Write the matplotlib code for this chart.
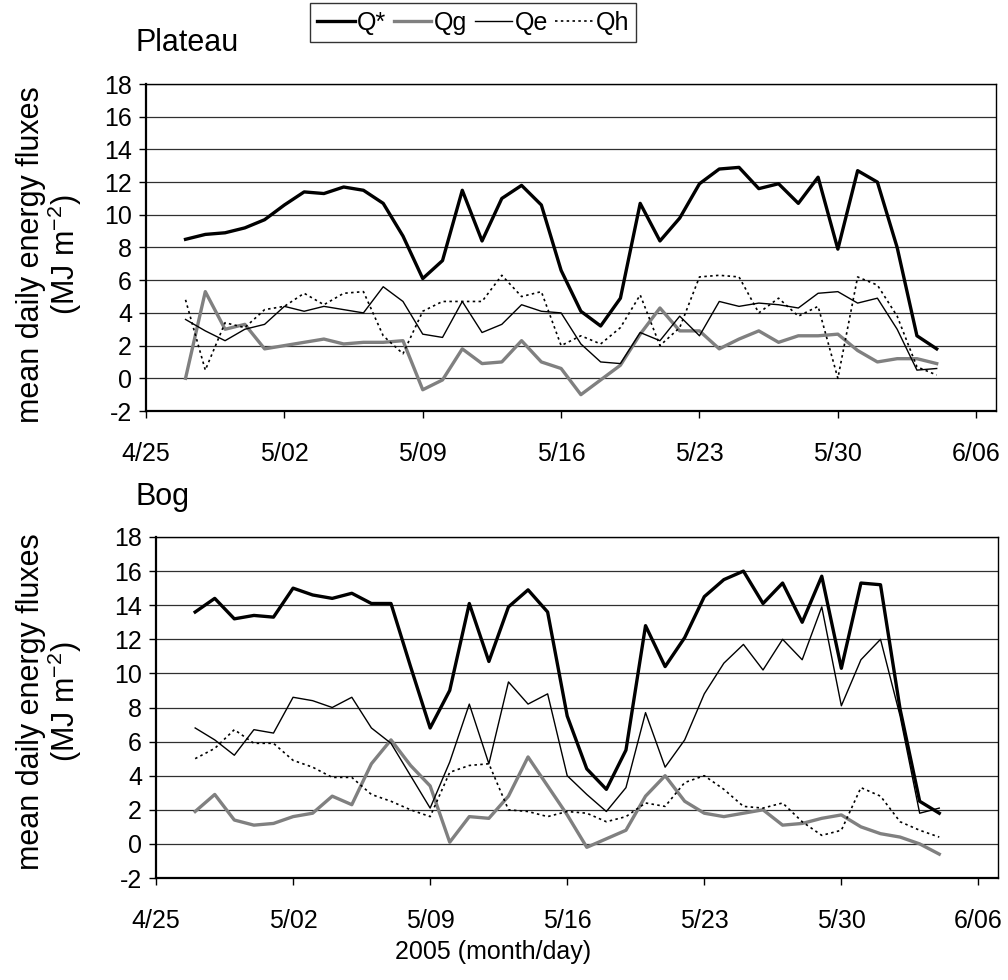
import numpy as np
import pandas as pd
import matplotlib
matplotlib.use('Agg')
import matplotlib.pyplot as plt

plt.rcParams['font.family'] = ['Liberation Sans', 'DejaVu Sans']
plt.rcParams['axes.unicode_minus'] = False
plt.rcParams['mathtext.fontset'] = 'custom'
plt.rcParams['mathtext.rm'] = 'Liberation Sans'

#%% data (daily means, 4/27 - 6/04 2005)
days = pd.date_range('2005-04-27', periods=39, freq='D')
tick_days = pd.date_range('2005-04-25', '2005-06-06', freq='7D')
tick_labels = ['4/25', '5/02', '5/09', '5/16', '5/23', '5/30', '6/06']

plat_qstar = [8.5, 8.8, 8.9, 9.2, 9.7, 10.6, 11.4, 11.3, 11.7, 11.5, 10.7, 8.7, 6.1, 7.2, 11.5, 8.4, 11.0, 11.8, 10.6, 6.6,
              4.1, 3.2, 4.9, 10.7, 8.4, 9.8, 11.9, 12.8, 12.9, 11.6, 11.9, 10.7, 12.3, 7.9, 12.7, 12.0, 8.0, 2.6, 1.8]
plat_qg = [0.0, 5.3, 3.0, 3.3, 1.8, 2.0, 2.2, 2.4, 2.1, 2.2, 2.2, 2.3, -0.7, -0.1, 1.8, 0.9, 1.0, 2.3, 1.0, 0.6,
           -1.0, -0.1, 0.8, 2.7, 4.3, 2.9, 2.9, 1.8, 2.4, 2.9, 2.2, 2.6, 2.6, 2.7, 1.7, 1.0, 1.2, 1.2, 0.9]
plat_qe = [3.6, 2.9, 2.3, 3.0, 3.3, 4.4, 4.1, 4.4, 4.2, 4.0, 5.6, 4.7, 2.7, 2.5, 4.7, 2.8, 3.3, 4.5, 4.1, 4.0,
           2.1, 1.0, 0.9, 2.8, 2.3, 3.8, 2.6, 4.7, 4.4, 4.6, 4.5, 4.3, 5.2, 5.3, 4.6, 4.9, 3.0, 0.5, 0.6]
plat_qh = [4.8, 0.5, 3.4, 3.1, 4.2, 4.4, 5.2, 4.5, 5.2, 5.3, 2.6, 1.5, 4.1, 4.7, 4.7, 4.7, 6.3, 5.0, 5.3, 2.0,
           2.6, 2.1, 3.1, 5.1, 2.0, 3.1, 6.2, 6.3, 6.2, 4.0, 4.9, 3.8, 4.4, 0.0, 6.2, 5.7, 3.8, 0.7, 0.2]

bog_qstar = [13.6, 14.4, 13.2, 13.4, 13.3, 15.0, 14.6, 14.4, 14.7, 14.1, 14.1, 10.4, 6.8, 9.0, 14.1, 10.7, 13.9, 14.9, 13.6, 7.5,
             4.4, 3.2, 5.5, 12.8, 10.4, 12.1, 14.5, 15.5, 16.0, 14.1, 15.3, 13.0, 15.7, 10.3, 15.3, 15.2, 7.9, 2.5, 1.8]
bog_qg = [1.9, 2.9, 1.4, 1.1, 1.2, 1.6, 1.8, 2.8, 2.3, 4.7, 6.1, 4.6, 3.4, 0.1, 1.6, 1.5, 2.8, 5.1, 3.4, 1.7,
          -0.2, 0.3, 0.8, 2.8, 4.0, 2.5, 1.8, 1.6, 1.8, 2.0, 1.1, 1.2, 1.5, 1.7, 1.0, 0.6, 0.4, 0.0, -0.6]
bog_qe = [6.8, 6.1, 5.2, 6.7, 6.5, 8.6, 8.4, 8.0, 8.6, 6.8, 5.9, 4.0, 2.1, 4.8, 8.2, 4.7, 9.5, 8.2, 8.8, 4.0,
          2.9, 1.9, 3.3, 7.7, 4.5, 6.1, 8.8, 10.6, 11.7, 10.2, 12.0, 10.8, 13.9, 8.1, 10.8, 12.0, 7.5, 1.8, 2.1]
bog_qh = [5.0, 5.6, 6.7, 5.9, 5.9, 4.9, 4.5, 3.9, 3.9, 2.9, 2.5, 2.0, 1.6, 4.2, 4.6, 4.7, 2.0, 1.9, 1.6, 1.9,
          1.8, 1.3, 1.6, 2.4, 2.2, 3.6, 4.0, 3.2, 2.2, 2.1, 2.4, 1.3, 0.5, 0.8, 3.3, 2.8, 1.3, 0.8, 0.4]

names = ['Q*', 'Qg', 'Qe', 'Qh']
colors = ['black', '#808080', 'black', 'black']
widths = [2.4, 2.4, 1.0, 1.2]
styles = ['-', '-', '-', (0, (1.5, 2))]

fig = plt.figure(figsize=(10.08, 9.8), dpi=100)
ax1 = fig.add_axes([146/1008, 1-411/980, (996-146)/1008, (411-84)/980])
ax2 = fig.add_axes([156/1008, 1-878/980, (998-156)/1008, (878-537)/980])

fs = 18
handles = []
for ax, series in [(ax1, [plat_qstar, plat_qg, plat_qe, plat_qh]),
                   (ax2, [bog_qstar, bog_qg, bog_qe, bog_qh])]:
    handles = []
    for i in range(4):
        h, = ax.plot(days, series[i], color=colors[i], lw=widths[i], linestyle=styles[i],
                     label=names[i], zorder=3 + (i == 0))
        handles.append(h)
    ax.set_ylim(-2, 18)
    ax.set_yticks(np.arange(-2, 19, 2))
    ax.set_xlim(pd.Timestamp('2005-04-25'), pd.Timestamp('2005-06-07'))
    ax.set_xticks(tick_days)
    ax.set_xticklabels(tick_labels)
    ax.yaxis.grid(True, color='#303030', lw=0.9)
    ax.set_axisbelow(True)
    ax.tick_params(direction='out', length=5, width=1, labelsize=fs, pad=5)
    ax.tick_params(axis='x', pad=17)
    for s in ['left', 'bottom']:
        ax.spines[s].set_linewidth(1.6)
    for s in ['top', 'right']:
        ax.spines[s].set_linewidth(1.0)

ylab = 'mean daily energy fluxes\n(MJ m$^{\\mathrm{-2}}$)'
fig.text(50/1008, 1-255/980, ylab, rotation=90, ha='center', va='center',
         fontsize=22, multialignment='center', linespacing=1.0)
fig.text(50/1008, 1-702/980, ylab, rotation=90, ha='center', va='center',
         fontsize=22, multialignment='center', linespacing=1.0)

fig.text(135/1008, 1-43/980, 'Plateau', fontsize=22, ha='left', va='center')
fig.text(135/1008, 1-497/980, 'Bog', fontsize=22, ha='left', va='center')
fig.text(493/1008, 1-952/980, '2005 (month/day)', fontsize=fs, ha='center', va='center')

leg = fig.legend(handles, names, loc='center', bbox_to_anchor=(473/1008, 1-23/980), ncol=4,
                 fontsize=18, frameon=True, fancybox=False, edgecolor='black',
                 handlelength=1.5, handletextpad=0.1, columnspacing=0.3, borderpad=0.3)
leg.get_frame().set_linewidth(1.0)

fig.savefig('out.png', dpi=100)
